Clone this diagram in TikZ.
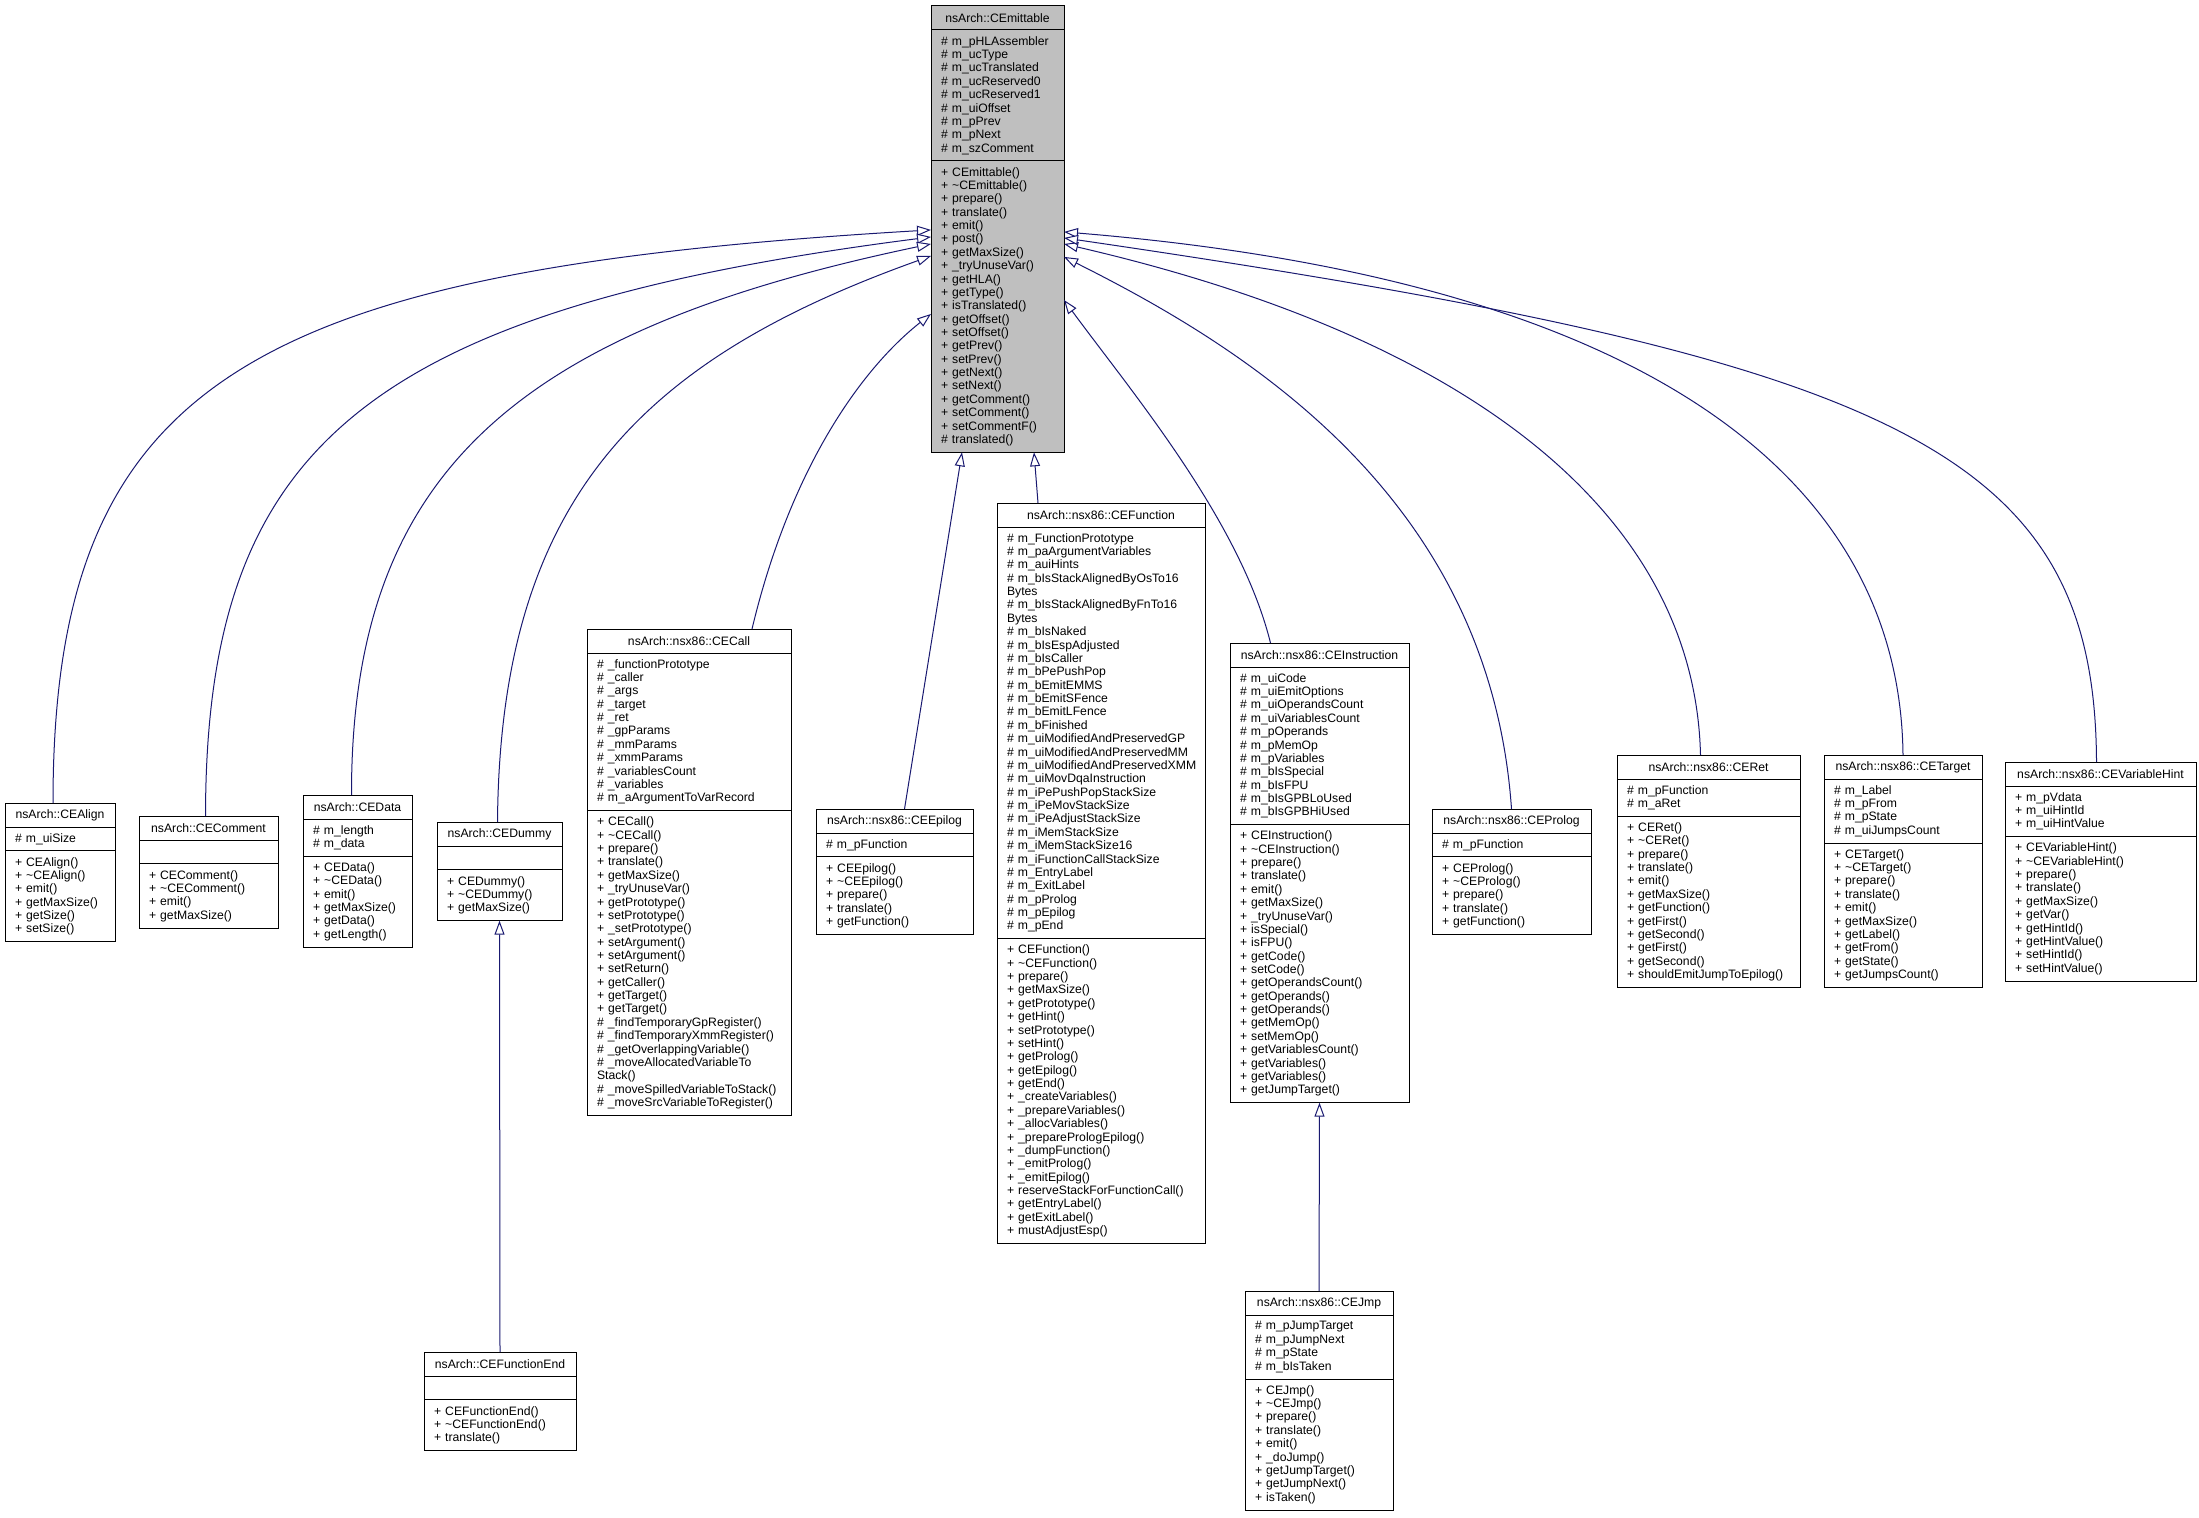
\documentclass[tikz,border=0pt]{standalone}
\usepackage{fontspec}
\setmainfont{Liberation Sans}
\usetikzlibrary{arrows.meta}
\setlength\parindent{0pt}
\hyphenpenalty=10000 \exhyphenpenalty=10000
\definecolor{edgeblue}{HTML}{191970}
\definecolor{boxgray}{HTML}{BFBFBF}
\newcommand\cfont{\fontsize{12.2}{13.37}\selectfont}
\newcommand\mprot[1]{\#~#1}
\newcommand\mpub[1]{+~#1}
\newcommand\tld{\textasciitilde}
\newcommand\umlbox[9]{%
  \pgfmathsetmacro\umlhA{#6*13.37+10.6}%
  \pgfmathsetmacro\umlhM{#8*13.37+10.6}%
  \pgfmathsetmacro\umltw{#4-20}%
  \node[cbox, ctitle, text width=\umltw pt, minimum height=24pt] (#1) at (#2,#3) {#5};
  \node[cbox, csec, text width=\umltw pt, minimum height=\umlhA pt] (#1-a) at (#1.south west) {#7};
  \node[cbox, csec, text width=\umltw pt, minimum height=\umlhM pt] (#1-m) at (#1-a.south west) {#9};
}
\tikzset{
  cbox/.style={draw=black, line width=1pt, anchor=north west, inner xsep=10pt, inner ysep=0pt, outer sep=0pt, font=\cfont},
  ctitle/.style={align=center},
  csec/.style={align=left},
  edge/.style={draw=edgeblue, line width=1pt, -{Triangle[open, length=14pt, width=10pt, fill=white]}},
}
\begin{document}
\begin{tikzpicture}[x=1pt, y=-1pt]
\fill[white] (0,0) rectangle (2199,1517);
\useasboundingbox (0,0) rectangle (2199,1517);

\begin{scope}[cbox/.append style={fill=boxgray}]
\umlbox{emit}{931}{6}{133}{nsArch::CEmittable}{9}{%
\mprot{m\_pHLAssembler}\\\mprot{m\_ucType}\\\mprot{m\_ucTranslated}\\\mprot{m\_ucReserved0}\\\mprot{m\_ucReserved1}\\\mprot{m\_uiOffset}\\\mprot{m\_pPrev}\\\mprot{m\_pNext}\\\mprot{m\_szComment}}{21}{%
\mpub{CEmittable()}\\\mpub{\tld CEmittable()}\\\mpub{prepare()}\\\mpub{translate()}\\\mpub{emit()}\\\mpub{post()}\\\mpub{getMaxSize()}\\\mpub{\_tryUnuseVar()}\\\mpub{getHLA()}\\\mpub{getType()}\\\mpub{isTranslated()}\\\mpub{getOffset()}\\\mpub{setOffset()}\\\mpub{getPrev()}\\\mpub{setPrev()}\\\mpub{getNext()}\\\mpub{setNext()}\\\mpub{getComment()}\\\mpub{setComment()}\\\mpub{setCommentF()}\\\mprot{translated()}}
\end{scope}

\umlbox{align}{5}{803}{110}{nsArch::CEAlign}{1}{\mprot{m\_uiSize}}{6}{%
\mpub{CEAlign()}\\\mpub{\tld CEAlign()}\\\mpub{emit()}\\\mpub{getMaxSize()}\\\mpub{getSize()}\\\mpub{setSize()}}

\umlbox{comment}{139}{816}{139}{nsArch::CEComment}{1}{}{4}{%
\mpub{CEComment()}\\\mpub{\tld CEComment()}\\\mpub{emit()}\\\mpub{getMaxSize()}}

\umlbox{data}{303}{795}{109}{nsArch::CEData}{2}{\mprot{m\_length}\\\mprot{m\_data}}{6}{%
\mpub{CEData()}\\\mpub{\tld CEData()}\\\mpub{emit()}\\\mpub{getMaxSize()}\\\mpub{getData()}\\\mpub{getLength()}}

\umlbox{dummy}{437}{822}{125}{nsArch::CEDummy}{1}{}{3}{%
\mpub{CEDummy()}\\\mpub{\tld CEDummy()}\\\mpub{getMaxSize()}}

\umlbox{fend}{424}{1352}{152}{nsArch::CEFunctionEnd}{1}{}{3}{%
\mpub{CEFunctionEnd()}\\\mpub{\tld CEFunctionEnd()}\\\mpub{translate()}}

\umlbox{call}{587}{629}{204}{nsArch::nsx86::CECall}{11}{%
\mprot{\_functionPrototype}\\\mprot{\_caller}\\\mprot{\_args}\\\mprot{\_target}\\\mprot{\_ret}\\\mprot{\_gpParams}\\\mprot{\_mmParams}\\\mprot{\_xmmParams}\\\mprot{\_variablesCount}\\\mprot{\_variables}\\\mprot{m\_aArgumentToVarRecord}}{22}{%
\mpub{CECall()}\\\mpub{\tld CECall()}\\\mpub{prepare()}\\\mpub{translate()}\\\mpub{getMaxSize()}\\\mpub{\_tryUnuseVar()}\\\mpub{getPrototype()}\\\mpub{setPrototype()}\\\mpub{\_setPrototype()}\\\mpub{setArgument()}\\\mpub{setArgument()}\\\mpub{setReturn()}\\\mpub{getCaller()}\\\mpub{getTarget()}\\\mpub{getTarget()}\\\mprot{\_findTemporaryGpRegister()}\\\mprot{\_findTemporaryXmmRegister()}\\\mprot{\_getOverlappingVariable()}\\\mprot{\_moveAllocatedVariableTo}\\Stack()\\\mprot{\_moveSpilledVariableToStack()}\\\mprot{\_moveSrcVariableToRegister()}}

\umlbox{epilog}{816}{809}{157}{nsArch::nsx86::CEEpilog}{1}{\mprot{m\_pFunction}}{5}{%
\mpub{CEEpilog()}\\\mpub{\tld CEEpilog()}\\\mpub{prepare()}\\\mpub{translate()}\\\mpub{getFunction()}}

\umlbox{func}{997}{503}{208}{nsArch::nsx86::CEFunction}{30}{%
\mprot{m\_FunctionPrototype}\\\mprot{m\_paArgumentVariables}\\\mprot{m\_auiHints}\\\mprot{m\_bIsStackAlignedByOsTo16}\\Bytes\\\mprot{m\_bIsStackAlignedByFnTo16}\\Bytes\\\mprot{m\_bIsNaked}\\\mprot{m\_bIsEspAdjusted}\\\mprot{m\_bIsCaller}\\\mprot{m\_bPePushPop}\\\mprot{m\_bEmitEMMS}\\\mprot{m\_bEmitSFence}\\\mprot{m\_bEmitLFence}\\\mprot{m\_bFinished}\\\mprot{m\_uiModifiedAndPreservedGP}\\\mprot{m\_uiModifiedAndPreservedMM}\\\mprot{m\_uiModifiedAndPreservedXMM}\\\mprot{m\_uiMovDqaInstruction}\\\mprot{m\_iPePushPopStackSize}\\\mprot{m\_iPeMovStackSize}\\\mprot{m\_iPeAdjustStackSize}\\\mprot{m\_iMemStackSize}\\\mprot{m\_iMemStackSize16}\\\mprot{m\_iFunctionCallStackSize}\\\mprot{m\_EntryLabel}\\\mprot{m\_ExitLabel}\\\mprot{m\_pProlog}\\\mprot{m\_pEpilog}\\\mprot{m\_pEnd}}{22}{%
\mpub{CEFunction()}\\\mpub{\tld CEFunction()}\\\mpub{prepare()}\\\mpub{getMaxSize()}\\\mpub{getPrototype()}\\\mpub{getHint()}\\\mpub{setPrototype()}\\\mpub{setHint()}\\\mpub{getProlog()}\\\mpub{getEpilog()}\\\mpub{getEnd()}\\\mpub{\_createVariables()}\\\mpub{\_prepareVariables()}\\\mpub{\_allocVariables()}\\\mpub{\_preparePrologEpilog()}\\\mpub{\_dumpFunction()}\\\mpub{\_emitProlog()}\\\mpub{\_emitEpilog()}\\\mpub{reserveStackForFunctionCall()}\\\mpub{getEntryLabel()}\\\mpub{getExitLabel()}\\\mpub{mustAdjustEsp()}}

\umlbox{instr}{1230}{643}{179}{nsArch::nsx86::CEInstruction}{11}{%
\mprot{m\_uiCode}\\\mprot{m\_uiEmitOptions}\\\mprot{m\_uiOperandsCount}\\\mprot{m\_uiVariablesCount}\\\mprot{m\_pOperands}\\\mprot{m\_pMemOp}\\\mprot{m\_pVariables}\\\mprot{m\_bIsSpecial}\\\mprot{m\_bIsFPU}\\\mprot{m\_bIsGPBLoUsed}\\\mprot{m\_bIsGPBHiUsed}}{20}{%
\mpub{CEInstruction()}\\\mpub{\tld CEInstruction()}\\\mpub{prepare()}\\\mpub{translate()}\\\mpub{emit()}\\\mpub{getMaxSize()}\\\mpub{\_tryUnuseVar()}\\\mpub{isSpecial()}\\\mpub{isFPU()}\\\mpub{getCode()}\\\mpub{setCode()}\\\mpub{getOperandsCount()}\\\mpub{getOperands()}\\\mpub{getOperands()}\\\mpub{getMemOp()}\\\mpub{setMemOp()}\\\mpub{getVariablesCount()}\\\mpub{getVariables()}\\\mpub{getVariables()}\\\mpub{getJumpTarget()}}

\umlbox{jmp}{1245}{1291}{148}{nsArch::nsx86::CEJmp}{4}{%
\mprot{m\_pJumpTarget}\\\mprot{m\_pJumpNext}\\\mprot{m\_pState}\\\mprot{m\_bIsTaken}}{9}{%
\mpub{CEJmp()}\\\mpub{\tld CEJmp()}\\\mpub{prepare()}\\\mpub{translate()}\\\mpub{emit()}\\\mpub{\_doJump()}\\\mpub{getJumpTarget()}\\\mpub{getJumpNext()}\\\mpub{isTaken()}}

\umlbox{prolog}{1432}{809}{159}{nsArch::nsx86::CEProlog}{1}{\mprot{m\_pFunction}}{5}{%
\mpub{CEProlog()}\\\mpub{\tld CEProlog()}\\\mpub{prepare()}\\\mpub{translate()}\\\mpub{getFunction()}}

\umlbox{ret}{1617}{755}{183}{nsArch::nsx86::CERet}{2}{\mprot{m\_pFunction}\\\mprot{m\_aRet}}{12}{%
\mpub{CERet()}\\\mpub{\tld CERet()}\\\mpub{prepare()}\\\mpub{translate()}\\\mpub{emit()}\\\mpub{getMaxSize()}\\\mpub{getFunction()}\\\mpub{getFirst()}\\\mpub{getSecond()}\\\mpub{getFirst()}\\\mpub{getSecond()}\\\mpub{shouldEmitJumpToEpilog()}}

\umlbox{target}{1824}{755}{158}{nsArch::nsx86::CETarget}{4}{%
\mprot{m\_Label}\\\mprot{m\_pFrom}\\\mprot{m\_pState}\\\mprot{m\_uiJumpsCount}}{10}{%
\mpub{CETarget()}\\\mpub{\tld CETarget()}\\\mpub{prepare()}\\\mpub{translate()}\\\mpub{emit()}\\\mpub{getMaxSize()}\\\mpub{getLabel()}\\\mpub{getFrom()}\\\mpub{getState()}\\\mpub{getJumpsCount()}}

\umlbox{vhint}{2005}{762}{191}{nsArch::nsx86::CEVariableHint}{3}{%
\mpub{m\_pVdata}\\\mpub{m\_uiHintId}\\\mpub{m\_uiHintValue}}{10}{%
\mpub{CEVariableHint()}\\\mpub{\tld CEVariableHint()}\\\mpub{prepare()}\\\mpub{translate()}\\\mpub{getMaxSize()}\\\mpub{getVar()}\\\mpub{getHintId()}\\\mpub{getHintValue()}\\\mpub{setHintId()}\\\mpub{setHintValue()}}

% inheritance connectors
\draw[edge] ([xshift=-7pt]align.north) .. controls (53,380) and (250,270) .. ([yshift=-69pt]emit-m.north west);
\draw[edge] ([xshift=-3pt]comment.north) .. controls (206,450) and (360,310) .. ([yshift=-76pt]emit-m.north west);
\draw[edge] ([xshift=-6pt]data.north) .. controls (351,470) and (520,330) .. ([yshift=-83pt]emit-m.north west);
\draw[edge] ([xshift=-2pt]dummy.north) .. controls (500,500) and (640,360) .. ([yshift=-95pt]emit-m.north west);
\draw[edge] ([xshift=63pt]call.north) .. controls (790,470) and (860,370) .. ([yshift=-153pt]emit-m.north west);
\draw[edge] ([xshift=10pt]epilog.north) -- ([xshift=31pt]emit-m.south west);
\draw[edge] ([xshift=-63pt]func.north) -- ([xshift=103pt]emit-m.south west);
\draw[edge] ([xshift=-49pt]instr.north) .. controls (1240,520) and (1130,390) .. ([yshift=-139pt]emit-m.north east);
\draw[edge] (prolog.north) .. controls (1490,500) and (1250,350) .. ([yshift=-96pt]emit-m.north east);
\draw[edge] ([xshift=-8pt]ret.north) .. controls (1695,520) and (1480,340) .. ([yshift=-83pt]emit-m.north east);
\draw[edge] (target.north) .. controls (1900,480) and (1650,280) .. ([yshift=-71pt]emit-m.north east);
\draw[edge] ([xshift=-4pt]vhint.north) .. controls (2095,450) and (1900,360) .. ([yshift=-77pt]emit-m.north east);
\draw[edge] (fend.north) -- (dummy-m.south);
\draw[edge] (jmp.north) -- (instr-m.south);
\end{tikzpicture}
\end{document}
